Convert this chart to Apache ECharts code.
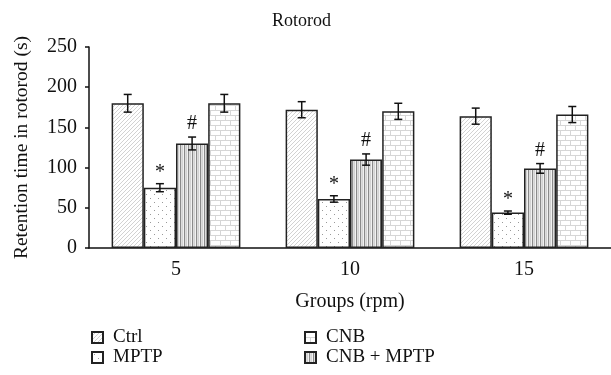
<!DOCTYPE html>
<html><head><meta charset="utf-8">
<script src="https://cdn.jsdelivr.net/npm/echarts@6/dist/echarts.min.js"></script>
<style>html,body{margin:0;padding:0;background:#fff}#c{width:611px;height:375px}</style>
</head><body><div id="c"></div>
<script>
const categories = ['5', '10', '15'];
const seriesNames = ['Ctrl', 'MPTP', 'CNB + MPTP', 'CNB'];
const ctrl = [180, 172, 164];
const mptp = [75, 61, 44];
const cnbMptp = [130, 110, 99];
const cnb = [180, 170, 166];
const ctrlErr = [11, 10, 10];
const mptpErr = [5, 4, 2];
const cnbMptpErr = [8, 7, 6];
const cnbErr = [11, 10, 10];
const mptpMarks = ['*', '*', '*'];
const cnbMptpMarks = ['#', '#', '#'];
const yTicks = [0, 50, 100, 150, 200, 250];

function mk(w, h, draw) {
  const c = document.createElement('canvas');
  c.width = w; c.height = h;
  const g = c.getContext('2d');
  g.fillStyle = '#fff'; g.fillRect(0, 0, w, h);
  draw(g);
  return { image: c, repeat: 'repeat' };
}
const patDiag = mk(4, 4, g => {
  g.strokeStyle = '#d2d2d2'; g.lineWidth = 1;
  g.beginPath();
  g.moveTo(0, 4); g.lineTo(4, 0);
  g.moveTo(-1, 1); g.lineTo(1, -1);
  g.moveTo(3, 5); g.lineTo(5, 3);
  g.stroke();
});
const patDots = mk(8, 8, g => {
  g.fillStyle = '#999';
  g.fillRect(2, 2, 1, 1);
  g.fillRect(6, 6, 1, 1);
});
const patVert = mk(4, 4, g => {
  g.fillStyle = '#8a8a8a'; g.fillRect(0, 0, 1.3, 4);
  g.fillStyle = '#d2d2d2'; g.fillRect(2, 0, 1.3, 4);
});
const patBrick = mk(10, 10, g => {
  g.strokeStyle = '#d6d6d6'; g.lineWidth = 1;
  g.beginPath();
  g.moveTo(0, 0.5); g.lineTo(10, 0.5);
  g.moveTo(0, 5.5); g.lineTo(10, 5.5);
  g.moveTo(0.5, 0); g.lineTo(0.5, 5);
  g.moveTo(5.5, 5); g.lineTo(5.5, 10);
  g.stroke();
});
const patterns = [patDiag, patDots, patVert, patBrick];
const values = [ctrl, mptp, cnbMptp, cnb];
const errs = [ctrlErr, mptpErr, cnbMptpErr, cnbErr];
const marks = [null, mptpMarks, cnbMptpMarks, null];

const font = 'Liberation Serif';
const gapPct = 0.26;

const errData = [];
values.forEach((arr, si) => arr.forEach((v, ci) => {
  errData.push([ci, si, v, errs[si][ci], marks[si] ? marks[si][ci] : '']);
}));

const barSeries = seriesNames.map((n, i) => ({
  name: n, type: 'bar', data: values[i],
  barGap: '0%', barCategoryGap: (gapPct * 100) + '%',
  itemStyle: { color: patterns[i], borderColor: '#222', borderWidth: 1.5 },
  emphasis: { disabled: true }
}));

const errSeries = {
  type: 'custom', name: 'err', z: 10,
  encode: { x: 0, y: 2 },
  data: errData,
  renderItem: (params, api) => {
    const ci = api.value(0), si = api.value(1), v = api.value(2), e = api.value(3);
    const mark = errData[params.dataIndex][4];
    const cw = api.size([1, 0])[0];
    const bw = cw * (1 - gapPct) / 4;
    const c = api.coord([ci, v]);
    const x = c[0] + (-1.5 + si) * bw;
    const top = api.coord([ci, v + e])[1];
    const bot = api.coord([ci, v - e])[1];
    const hw = 4;
    const st = { stroke: '#111', lineWidth: 1.5 };
    const children = [
      { type: 'line', shape: { x1: x, y1: top, x2: x, y2: bot }, style: st },
      { type: 'line', shape: { x1: x - hw, y1: top, x2: x + hw, y2: top }, style: st },
      { type: 'line', shape: { x1: x - hw, y1: bot, x2: x + hw, y2: bot }, style: st }
    ];
    if (mark) {
      children.push({ type: 'text', style: { x: x, y: top - (mark === '*' ? 1 : 3), text: mark, fill: '#111',
        font: '20px "' + font + '"', textAlign: 'center', textVerticalAlign: 'bottom' } });
    }
    return { type: 'group', children };
  }
};

const legendCommon = {
  orient: 'vertical', top: 328, height: 60, padding: 0, itemWidth: 11, itemHeight: 11, itemGap: 1,
  icon: 'rect', selectedMode: false,
  textStyle: { fontFamily: font, fontSize: 19, color: '#111', padding: [0, 0, 0, 5] }
};

const chart = echarts.init(document.getElementById('c'));
chart.setOption({
  animation: false,
  textStyle: { fontFamily: font },
  title: { text: 'Rotorod', left: 267, top: 7,
    textStyle: { fontFamily: font, fontSize: 18, fontWeight: 'normal', color: '#111' } },
  grid: { left: 89, right: 0, top: 47, bottom: 127 },
  legend: [
    Object.assign({ data: ['Ctrl', 'MPTP'], left: 91 }, legendCommon),
    Object.assign({ data: ['CNB', 'CNB + MPTP'], left: 304 }, legendCommon)
  ],
  xAxis: {
    type: 'category', data: categories,
    name: 'Groups (rpm)', nameLocation: 'middle', nameGap: 44,
    nameTextStyle: { fontFamily: font, fontSize: 20, color: '#111' },
    axisLine: { lineStyle: { color: '#111', width: 1.5 } },
    axisTick: { length: 4, lineStyle: { color: '#111', width: 1.5 } },
    axisLabel: { fontFamily: font, fontSize: 20, color: '#111', margin: 12 }
  },
  yAxis: {
    type: 'value', min: yTicks[0], max: yTicks[yTicks.length - 1], interval: yTicks[1] - yTicks[0],
    name: 'Retention time in rotorod (s)', nameLocation: 'middle', nameGap: 57,
    nameTextStyle: { fontFamily: font, fontSize: 19.5, color: '#111' },
    axisLine: { show: true, lineStyle: { color: '#111', width: 1.5 } },
    axisTick: { show: true, length: 4, lineStyle: { color: '#111', width: 1.5 } },
    axisLabel: { fontFamily: font, fontSize: 20, color: '#111', margin: 12 },
    splitLine: { show: false }
  },
  series: [...barSeries, errSeries]
});
</script></body></html>
